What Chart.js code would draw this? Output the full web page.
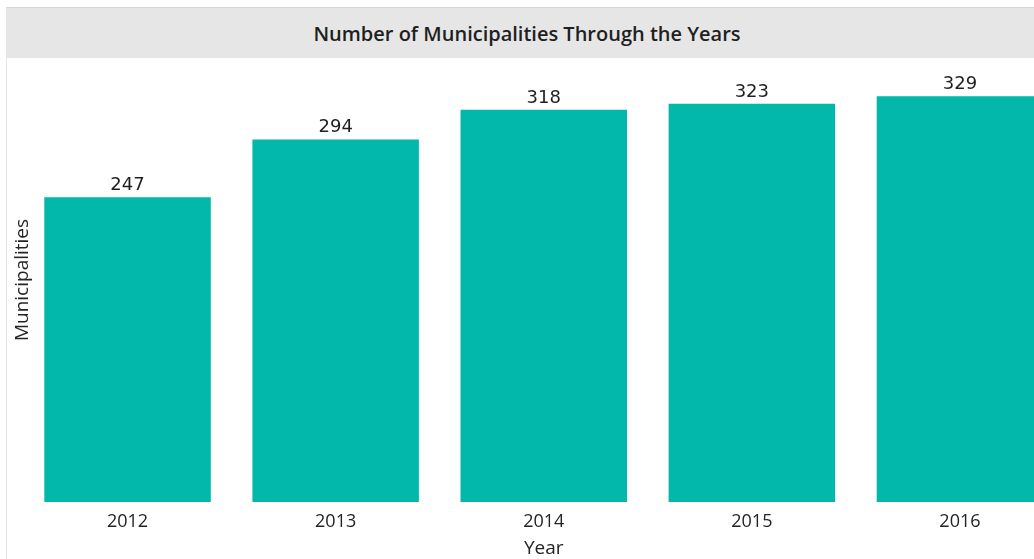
<!DOCTYPE html>
<html>
<head>
<meta charset="UTF-8">
<title>Number of Municipalities Through the Years</title>
<script src="https://cdn.jsdelivr.net/npm/chart.js@4"></script>
<style>
    html, body { margin: 0; padding: 0; background: #fff; overflow: hidden; }
    body { width: 1034px; height: 559px; position: relative; }
    .frame {
        position: absolute; left: 6px; top: 7px; width: 1100px; height: 560px;
        border-left: 1px solid #e6e6e6; border-top: 1px solid #d6d6d6;
    }
    .header {
        position: absolute; left: 6px; top: 8px; width: 1042px; height: 50px;
        background: #e6e6e6; color: #1f1f1f;
        font: 600 20px "Open Sans", sans-serif;
        display: flex; align-items: center; justify-content: center;
    }
    .plot { position: absolute; left: 0; top: 58px; width: 1064px; height: 501px; }
</style>
</head>
<body>
<div class="frame"></div>
<div class="header">Number of Municipalities Through the Years</div>
<div class="plot"><canvas id="grafica"></canvas></div>

<script>
    const years = ['2012', '2013', '2014', '2015', '2016'];
    const municipalities = [247, 294, 318, 323, 329];

    // numbers above each bar
    const valueLabels = {
        id: 'valueLabels',
        afterDatasetsDraw(chart) {
            const ctx = chart.ctx;
            const meta = chart.getDatasetMeta(0);
            ctx.save();
            ctx.font = '18px "DejaVu Sans", sans-serif';
            ctx.fillStyle = '#1f1f1f';
            ctx.textAlign = 'center';
            ctx.textBaseline = 'alphabetic';
            meta.data.forEach((bar, i) => {
                ctx.fillText(municipalities[i], bar.x, bar.y - 7);
            });
            ctx.restore();
        }
    };

    const ctx = document.getElementById('grafica').getContext('2d');

    new Chart(ctx, {
        type: 'bar',
        data: {
            labels: years,
            datasets: [{
                label: 'Municipalities',
                data: municipalities,
                backgroundColor: '#01B8AA',
                borderWidth: 0,
                categoryPercentage: 0.8,
                barPercentage: 1
            }]
        },
        options: {
            responsive: true,
            maintainAspectRatio: false,
            animation: false,
            layout: { padding: { left: 13, right: 0, top: 0, bottom: 0 } },
            scales: {
                x: {
                    grid: { display: false },
                    border: { display: false },
                    ticks: {
                        color: '#252423',
                        font: { family: 'Open Sans', size: 18 },
                        padding: 1
                    },
                    title: {
                        display: true,
                        text: 'Year',
                        color: '#252423',
                        font: { family: 'Open Sans', size: 19, lineHeight: 1.05 },
                        padding: 0
                    },
                    afterFit: scale => { scale.height = 57; }
                },
                y: {
                    min: 0,
                    max: 360,
                    grid: { display: false },
                    border: { display: false },
                    ticks: { display: false },
                    title: {
                        display: true,
                        text: 'Municipalities',
                        color: '#252423',
                        font: { family: 'Open Sans', size: 19, lineHeight: 1.05 },
                        padding: 0
                    },
                    afterFit: scale => { scale.width = 10.5; }
                }
            },
            plugins: {
                legend: { display: false },
                tooltip: { enabled: false }
            }
        },
        plugins: [valueLabels]
    });
</script>
</body>
</html>
